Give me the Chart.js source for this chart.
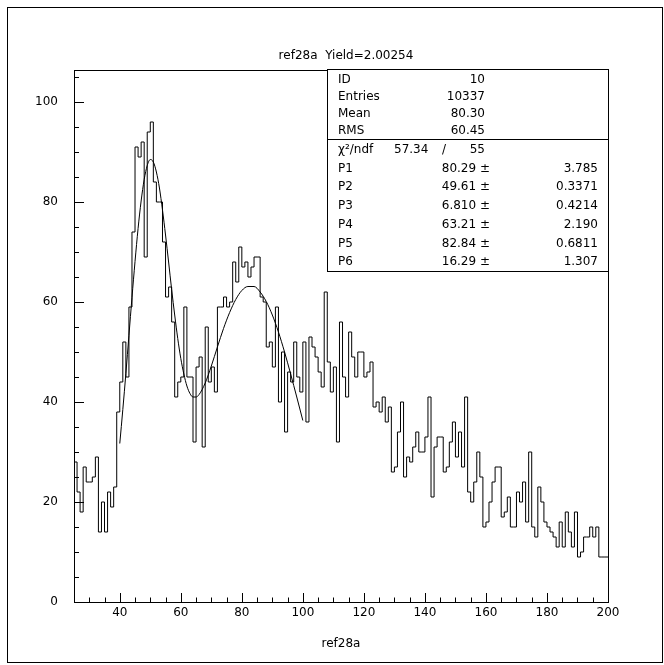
<!DOCTYPE html>
<html><head><meta charset="utf-8">
<script src="https://cdn.jsdelivr.net/npm/chart.js@4.4.0/dist/chart.umd.min.js"></script>
<style>html,body{margin:0;padding:0;background:#fff;}#wrap{width:664px;height:665px;}</style>
</head><body><div id="wrap"><canvas id="c" width="664" height="665"></canvas></div>
<script>
// ---- data ----
const plotTitle = 'ref28a  Yield=2.00254';
const xAxisTitle = 'ref28a';
const binLow = 25;      // lower edge of first bin
const binWidth = 1;
const counts = [
  21, 28, 22, 18, 27, 24, 24, 25, 29, 14,
  20, 14, 22, 19, 23, 38, 44, 52, 45, 59,
  74, 91, 89, 92, 69, 94, 96, 84, 80, 80,
  72, 61, 63, 56, 41, 44, 45, 59, 45, 45,
  32, 47, 49, 31, 55, 44, 47, 42, 59, 59,
  61, 59, 60, 68, 64, 71, 67, 68, 65, 67,
  69, 69, 61, 60, 51, 52, 47, 59, 40, 50,
  34, 46, 44, 52, 45, 42, 52, 36, 53, 51,
  49, 46, 43, 62, 48, 42, 47, 32, 56, 45,
  41, 54, 49, 45, 50, 50, 45, 46, 48, 39,
  40, 38, 41, 36, 39, 26, 27, 34, 40, 25,
  29, 28, 31, 34, 30, 30, 33, 41, 21, 31,
  33, 33, 26, 27, 32, 36, 29, 34, 27, 41,
  22, 20, 24, 30, 25, 15, 16, 20, 24, 27,
  27, 17, 18, 21, 15, 15, 22, 20, 24, 16,
  30, 15, 13, 23, 20, 16, 15, 14, 13, 11,
  16, 11, 18, 14, 11, 18, 9, 10, 13, 13,
  15, 13, 15, 9, 9
];
const fitX = [40,41,42,43,44,45,46,47,48,49,50,51,52,53,54,55,56,57,58,59,60,61,62,63,64,65,66,
              68,70,72,74,76,78,80,82,84,86,88,90,92,94,96,98,100];
const fitY = [31.7,38.5,45.7,53.3,60.9,68.1,74.7,80.2,84.5,87.3,88.5,88.0,86.0,82.8,78.4,73.4,68.0,62.5,57.4,52.7,48.7,45.6,43.2,41.7,41.0,41.0,41.5,
              43.8,47.2,51.0,54.7,57.9,60.5,62.3,63.1,63.1,62.0,60.1,57.4,54.0,50.0,45.6,41.0,36.3];
const xTickValues = [40,60,80,100,120,140,160,180,200];
const yTickValues = [0,20,40,60,80,100];
const xMin = 25, xMax = 200, yMin = 0, yMax = 106.4;
const statLabels = ['ID','Entries','Mean','RMS'];
const statValues = ['10','10337','80.30','60.45'];
const chiLabel = 'χ²/ndf', chiValue = '57.34', ndfValue = '55';
const parNames = ['P1','P2','P3','P4','P5','P6'];
const parValues = ['80.29','49.61','6.810','63.21','82.84','16.29'];
const parErrors = ['3.785','0.3371','0.4214','2.190','0.6811','1.307'];

const FONT = '"DejaVu Sans", "Liberation Sans", sans-serif';

// histogram outline points (bin edges, stepped)
const histPts = counts.map((v, i) => ({x: binLow + i * binWidth, y: v}));
histPts.push({x: binLow + counts.length * binWidth, y: counts[counts.length - 1]});
const fitPts = fitX.map((x, i) => ({x: x, y: fitY[i]}));

const decor = {
  id: 'decor',
  afterDraw(chart) {
    const ctx = chart.ctx, a = chart.chartArea;
    const xs = chart.scales.x, ys = chart.scales.y;
    ctx.save();
    ctx.strokeStyle = '#000';
    ctx.lineWidth = 1;
    // page frame
    ctx.strokeRect(7.5, 7.5, 655, 655);
    // plot frame
    ctx.strokeRect(Math.round(a.left) + 0.5, Math.round(a.top) + 0.5,
                   Math.round(a.right - a.left), Math.round(a.bottom - a.top));
    // ticks (inward)
    ctx.beginPath();
    for (let v = xMin; v <= xMax; v += 5) {
      const px = Math.round(xs.getPixelForValue(v)) + 0.5;
      const len = (v % 20 === 0) ? 9 : 4.5;
      ctx.moveTo(px, a.bottom); ctx.lineTo(px, a.bottom - len);
    }
    for (let v = 5; v <= 105; v += 5) {
      const py = Math.round(ys.getPixelForValue(v)) + 0.5;
      const len = (v % 20 === 0) ? 10 : 5;
      ctx.moveTo(a.left, py); ctx.lineTo(a.left + len, py);
    }
    ctx.stroke();
    // title
    ctx.fillStyle = '#000';
    ctx.font = '12px ' + FONT;
    ctx.textAlign = 'center';
    ctx.textBaseline = 'middle';
    ctx.fillText(plotTitle, (a.left + a.right) / 2 + 5, 56);
    // stats box
    const bx0 = 327.5, by0 = 69.5, bx1 = Math.round(a.right) + 0.5, by1 = 271.5, bsep = 139.5;
    ctx.fillStyle = '#fff';
    ctx.fillRect(bx0, by0, bx1 - bx0, by1 - by0);
    ctx.strokeRect(bx0, by0, bx1 - bx0, by1 - by0);
    ctx.beginPath(); ctx.moveTo(bx0, bsep); ctx.lineTo(bx1, bsep); ctx.stroke();
    ctx.fillStyle = '#000';
    const rowsTop = [80, 97, 114, 131];
    statLabels.forEach((l, i) => {
      ctx.textAlign = 'left'; ctx.fillText(l, 338, rowsTop[i]);
      ctx.textAlign = 'right'; ctx.fillText(statValues[i], 485, rowsTop[i]);
    });
    ctx.textAlign = 'left';
    ctx.fillText(chiLabel, 338, 150);
    ctx.fillText(chiValue, 394, 150);
    ctx.textAlign = 'center'; ctx.fillText('/', 444, 150);
    ctx.textAlign = 'right'; ctx.fillText(ndfValue, 485, 150);
    const rowsPar = [169, 187, 206, 225, 244, 262];
    parNames.forEach((n, i) => {
      ctx.textAlign = 'left'; ctx.fillText(n, 338, rowsPar[i]);
      ctx.textAlign = 'right'; ctx.fillText(parValues[i] + ' ±', 490, rowsPar[i]);
      ctx.fillText(parErrors[i], 598, rowsPar[i]);
    });
    ctx.restore();
  }
};

new Chart(document.getElementById('c'), {
  type: 'line',
  data: {
    datasets: [
      {data: histPts, stepped: 'after', borderColor: '#000', borderWidth: 1, pointRadius: 0, fill: false},
      {data: fitPts, borderColor: '#000', borderWidth: 1, pointRadius: 0, fill: false, cubicInterpolationMode: 'monotone'}
    ]
  },
  options: {
    responsive: false, animation: false, devicePixelRatio: 1,
    layout: {padding: {left: 0, right: 56, top: 70, bottom: 0}},
    plugins: {legend: {display: false}, tooltip: {enabled: false}},
    scales: {
      x: {
        type: 'linear', min: xMin, max: xMax,
        afterBuildTicks: s => { s.ticks = xTickValues.map(v => ({value: v})); },
        afterFit: s => { s.height = 63; },
        grid: {display: false, drawTicks: false}, border: {display: false},
        ticks: {color: '#000', font: {family: FONT, size: 12}, padding: 4, maxRotation: 0, autoSkip: false},
        title: {display: true, text: xAxisTitle, color: '#000', font: {family: FONT, size: 12}, padding: {top: 0, bottom: 14}}
      },
      y: {
        type: 'linear', min: yMin, max: yMax,
        afterBuildTicks: s => { s.ticks = yTickValues.map(v => ({value: v})); },
        afterFit: s => { s.width = 74; },
        grid: {display: false, drawTicks: false}, border: {display: false},
        ticks: {color: '#000', font: {family: FONT, size: 12}, padding: 16}
      }
    }
  },
  plugins: [decor]
});
</script></body></html>
